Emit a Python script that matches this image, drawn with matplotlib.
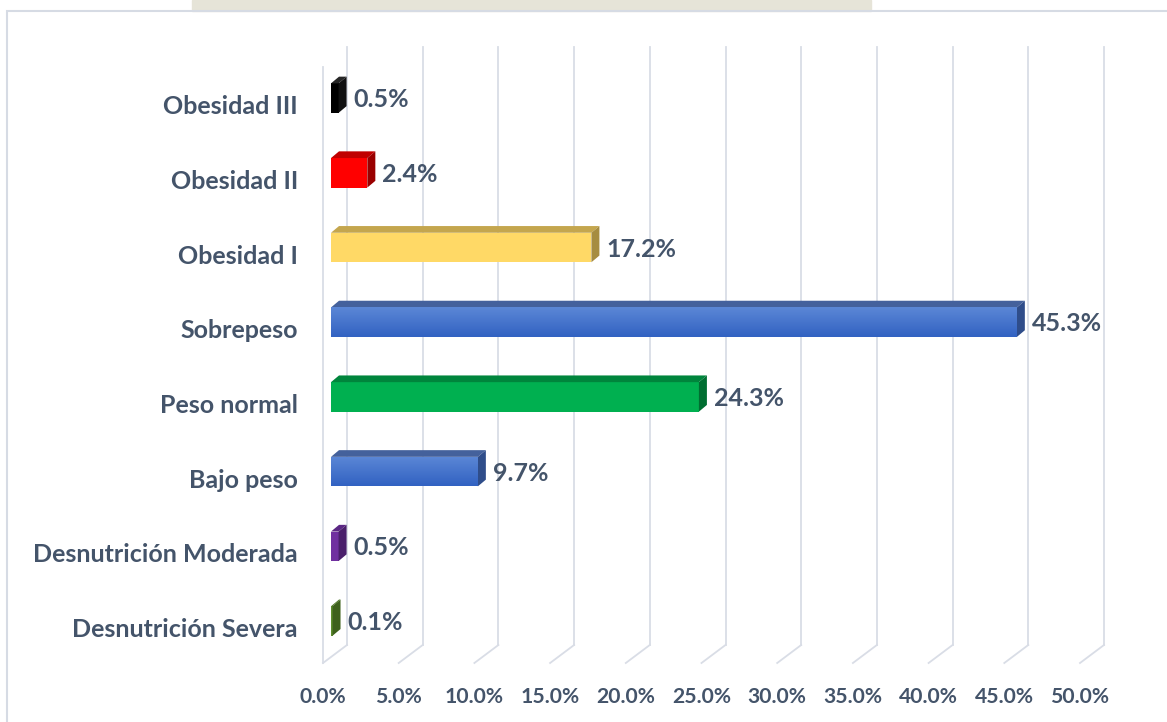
import numpy as np
import matplotlib
matplotlib.use("Agg")
import matplotlib.pyplot as plt
from matplotlib.patches import Polygon, Rectangle
from matplotlib.transforms import offset_copy
from matplotlib.colors import LinearSegmentedColormap

plt.rcParams['font.family'] = ['Lato', 'DejaVu Sans']
plt.rcParams['font.weight'] = 'bold'

# data (bottom to top)
categories = ['Desnutrición Severa', 'Desnutrición Moderada', 'Bajo peso', 'Peso normal',
              'Sobrepeso', 'Obesidad I', 'Obesidad II', 'Obesidad III']
values = [0.1, 0.5, 9.7, 24.3, 45.3, 17.2, 2.4, 0.5]
front_colors = ['#5E8E2E', '#7030A0', '#4472C4', '#00B050', '#4472C4', '#FFD966', '#FF0000', '#000000']
top_colors = ['#4C7624', '#5B2784', '#44619C', '#00853C', '#44619C', '#C4A64E', '#C00000', '#262626']
side_colors = ['#3E611C', '#4A1F6B', '#2F4D8A', '#006E31', '#2F4D8A', '#A68C40', '#9A0000', '#111111']
gradient_bars = ['Bajo peso', 'Sobrepeso']
xticks = np.arange(0, 50.1, 5)

TXT = '#44546A'
GRID = '#D9DDE6'
W, H = 1167, 722

fig = plt.figure(figsize=(W / 100, H / 100), dpi=100)
fig.patch.set_facecolor('white')

# watermark strip and outer frame
fig.add_artist(Rectangle((192 / W, 1 - 11 / H), (871 - 192) / W, 11 / H,
                         transform=fig.transFigure, color='#E6E4D8', zorder=0))
fig.add_artist(Rectangle((7 / W, -0.1), 1.2, 1 - 11 / H + 0.1, transform=fig.transFigure,
                         fill=False, edgecolor='#D6DBE4', linewidth=1.5, zorder=1))

ax_l, ax_r, ax_b, ax_t = 323, 1080, 663, 47
ax = fig.add_axes([ax_l / W, 1 - ax_b / H, (ax_r - ax_l) / W, (ax_b - ax_t) / H])
y0 = -0.4726
ax.patch.set_alpha(0)
for s in ax.spines.values():
    s.set_visible(False)

sx = (ax_r - ax_l) / 50.0          # px per %
sy = 74.7                          # px per category
depth_x, depth_y = 24, 18          # floor depth in px

# back wall gridlines + floor diagonals
back = offset_copy(ax.get_xaxis_transform(), fig=fig, x=depth_x, y=depth_y, units='dots')
top_frac = 1 - depth_y / (ax_b - ax_t)
for xv in xticks:
    ax.plot([xv, xv], [0, top_frac], color=GRID, lw=1.3, transform=back, clip_on=False, zorder=1)
    ax.plot([xv, xv + depth_x / sx], [0, depth_y / (ax_b - ax_t)], color=GRID, lw=1.3,
            transform=ax.get_xaxis_transform(), clip_on=False, zorder=1)
ax.plot([0, 0], [0, (ax_b - 67) / (ax_b - ax_t)], color=GRID, lw=1.3,
        transform=ax.get_xaxis_transform(), clip_on=False, zorder=1)

# 3D bars
fx, fy = 8, 6.7
ddx, ddy = 8 / sx, 6.7 / sy
h = 29.5 / sy
face = offset_copy(ax.transData, fig=fig, x=fx, y=fy, units='dots')
ypos = np.arange(len(categories))
bars = ax.barh(ypos, values, height=h, left=0, color=front_colors, transform=face,
               zorder=3, linewidth=0)
blue_cmap = LinearSegmentedColormap.from_list('b', ['#3262C2', '#5B87D6'])
for i, (cat, v) in enumerate(zip(categories, values)):
    yt, yb = i + h / 2, i - h / 2
    ax.add_patch(Polygon([(0, yt), (v, yt), (v + ddx, yt + ddy), (ddx, yt + ddy)],
                         closed=True, facecolor=top_colors[i], edgecolor='none',
                         transform=face, zorder=3))
    ax.add_patch(Polygon([(v, yb), (v, yt), (v + ddx, yt + ddy), (v + ddx, yb + ddy)],
                         closed=True, facecolor=side_colors[i], edgecolor='none',
                         transform=face, zorder=3))
    if cat in gradient_bars:
        im = ax.imshow(np.linspace(0, 1, 50).reshape(-1, 1), cmap=blue_cmap, aspect='auto',
                       origin='lower', extent=(0, v, yb, yt), transform=face, zorder=4)
        im.set_clip_path(bars[i])
    ax.text(v, i, f'{v}%', transform=offset_copy(ax.transData, fig=fig, x=fx + 15, y=5, units='dots'),
            ha='left', va='center', fontsize=18, color=TXT, fontweight='bold', zorder=5)

ax.set_xlim(0, 50)
ax.set_ylim(y0, y0 + (ax_b - ax_t) / sy)
ax.set_yticks(ypos)
ax.set_yticklabels(categories, fontsize=18, color=TXT, fontweight='bold')
ax.set_xticks(xticks)
ax.set_xticklabels([f'{t:.1f}%' for t in xticks], fontsize=15.2, color=TXT, fontweight='bold')
ax.tick_params(axis='y', length=0, pad=18)
ax.tick_params(axis='x', length=0, pad=17)

fig.savefig('out.png', dpi=100)
